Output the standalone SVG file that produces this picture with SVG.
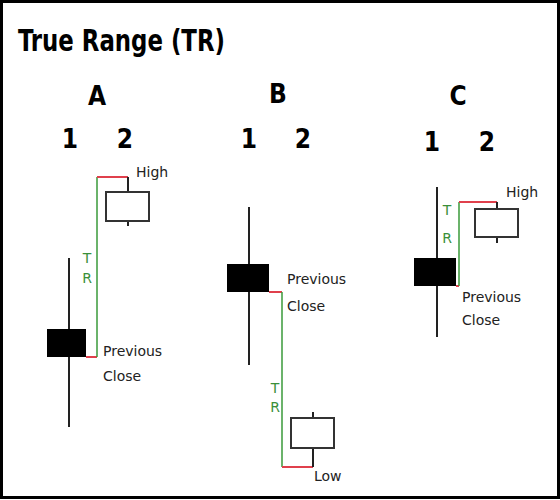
<svg xmlns="http://www.w3.org/2000/svg" width="560" height="500" viewBox="0 0 560 500">
<style>
.big{font-family:"DejaVu Sans Condensed","DejaVu Sans",sans-serif;font-weight:bold;fill:#000}
.lbl{font-family:"DejaVu Sans",sans-serif;font-size:14px;fill:#222}
.tr{font-family:"DejaVu Sans",sans-serif;font-size:14px;fill:#3a8f3a;text-anchor:middle}
.wick{stroke:#222;stroke-width:2;fill:none}
.solid{fill:#000}
.hollow{fill:#fff;stroke:#333;stroke-width:2}
.red{stroke:#e0404c;stroke-width:2;fill:none}
.green{stroke:#3a9a3a;stroke-width:1.5;fill:none}
</style>
<rect x="0" y="0" width="560" height="500" fill="#fff"/>
<rect x="1.5" y="1.5" width="557" height="496" fill="none" stroke="#000" stroke-width="3"/>
<text class="big" x="18" y="51" font-size="30" textLength="207" lengthAdjust="spacingAndGlyphs">True Range (TR)</text>
<g id="headers" class="big" font-size="26" text-anchor="middle">
<text x="97" y="105">A</text>
<text x="278" y="103">B</text>
<text x="458" y="105">C</text>
<text x="70" y="148">1</text>
<text x="125" y="148">2</text>
<text x="249" y="148">1</text>
<text x="303" y="148">2</text>
<text x="432" y="151">1</text>
<text x="487" y="151">2</text>
</g>
<g id="connectors">
<polyline class="red" points="86,357 97,357"/>
<polyline class="green" points="97,357 97,177"/>
<polyline class="red" points="97,177 128,177"/>
<polyline class="red" points="269,292 282,292"/>
<polyline class="green" points="282,292 282,467"/>
<polyline class="red" points="282,467 313,467"/>
<polyline class="red" points="456,286 459,286"/>
<polyline class="green" points="459,286 459,202"/>
<polyline class="red" points="459,202 497,202"/>
</g>
<g id="A1">
<line class="wick" x1="69" y1="258" x2="69" y2="427"/>
<rect class="solid" x="47" y="329" width="39" height="28"/>
</g>
<g id="A2">
<line class="wick" x1="128" y1="177" x2="128" y2="226"/>
<rect class="hollow" x="106" y="192" width="43" height="29"/>
</g>
<g id="B1">
<line class="wick" x1="249" y1="207" x2="249" y2="365"/>
<rect class="solid" x="227" y="264" width="42" height="28"/>
</g>
<g id="B2">
<line class="wick" x1="313" y1="412" x2="313" y2="467"/>
<rect class="hollow" x="291" y="418" width="43" height="30"/>
</g>
<g id="C1">
<line class="wick" x1="437" y1="187" x2="437" y2="337"/>
<rect class="solid" x="414" y="258" width="42" height="28"/>
</g>
<g id="C2">
<line class="wick" x1="497" y1="202" x2="497" y2="243"/>
<rect class="hollow" x="475" y="209" width="43" height="28"/>
</g>
<g id="labels">
<text class="lbl" x="136" y="177">High</text>
<text class="lbl" x="103" y="356">Previous</text>
<text class="lbl" x="103" y="381">Close</text>
<text class="tr" x="87" y="263">T</text>
<text class="tr" x="87" y="283">R</text>
<text class="lbl" x="287" y="284">Previous</text>
<text class="lbl" x="287" y="311">Close</text>
<text class="tr" x="275" y="393">T</text>
<text class="tr" x="275" y="412">R</text>
<text class="lbl" x="314" y="481">Low</text>
<text class="lbl" x="506" y="197">High</text>
<text class="tr" x="447" y="215">T</text>
<text class="tr" x="447" y="243">R</text>
<text class="lbl" x="462" y="302">Previous</text>
<text class="lbl" x="462" y="325">Close</text>
</g>
</svg>
